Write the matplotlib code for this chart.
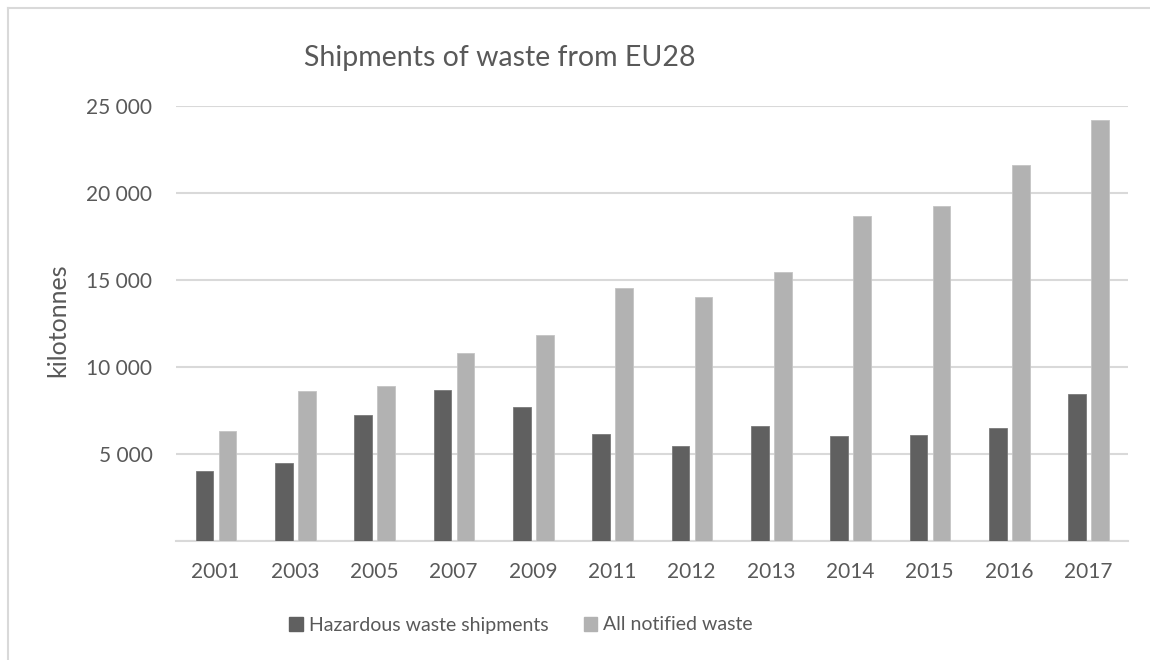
import matplotlib

matplotlib.use("Agg")
import matplotlib.pyplot as plt
from matplotlib.lines import Line2D
from matplotlib.patches import Patch
from matplotlib.ticker import FuncFormatter
import numpy as np

years = ["2001", "2003", "2005", "2007", "2009", "2011", "2012", "2013", "2014", "2015", "2016", "2017"]
hazardous = [4015, 4460, 7240, 8700, 7680, 6150, 5440, 6590, 6030, 6090, 6470, 8450]
all_notified = [6300, 8600, 8910, 10790, 11830, 14560, 14000, 15440, 18650, 19260, 21600, 24220]
y_ticks = [0, 5000, 10000, 15000, 20000, 25000]

DARK = "#606060"
LIGHT = "#b2b2b2"
GRID = "#d9d9d9"
TEXT = "#595959"

plt.rcParams["font.family"] = ["Lato", "DejaVu Sans"]

fig = plt.figure(figsize=(11.5, 6.6), dpi=100)
ax = fig.add_axes([176 / 1150, 1 - 541 / 660, 952 / 1150, 435 / 660])

x = np.arange(len(years))
width = 0.225
ax.bar(x - 0.14, hazardous, width, color=DARK, edgecolor="#7a7a7a", linewidth=0.6, zorder=3)
ax.bar(x + 0.15, all_notified, width, color=LIGHT, edgecolor="#c4c4c4", linewidth=0.6, zorder=3)

ax.set_xlim(-0.5, len(years) - 0.5)
ax.set_ylim(0, 25000)
ax.set_yticks(y_ticks)
ax.yaxis.set_major_formatter(FuncFormatter(lambda v, _: "" if v == 0 else f"{int(v):,}".replace(",", " ")))
ax.set_xticks(x)
ax.set_xticklabels(years)
ax.tick_params(axis="both", length=0, labelsize=15, colors=TEXT)
ax.tick_params(axis="x", pad=15)
ax.tick_params(axis="y", pad=17)
ax.grid(axis="y", color=GRID, linewidth=1.5, zorder=0)
for side in ["top", "right", "left"]:
    ax.spines[side].set_visible(False)
ax.spines["bottom"].set_color(GRID)
ax.spines["bottom"].set_linewidth(1.5)

fig.text(58 / 1150, 1 - 320 / 660, "kilotonnes", rotation=90, ha="center", va="center",
         fontsize=18, color=TEXT)
fig.text(500 / 1150, 1 - 58 / 660, "Shipments of waste from EU28", ha="center", va="center",
         fontsize=20.5, color=TEXT)

handles = [Patch(facecolor=DARK, edgecolor=DARK), Patch(facecolor=LIGHT, edgecolor=LIGHT)]
fig.legend(handles, ["Hazardous waste shipments", "All notified waste"], loc="center",
           bbox_to_anchor=(521 / 1150, 1 - 625 / 660), ncol=2, frameon=False, fontsize=14,
           labelcolor=TEXT, handlelength=0.7, handleheight=0.7, handletextpad=0.3, columnspacing=1.8)

# chart border (top and left edges visible in the reference crop)
fig.add_artist(Line2D([8 / 1150, 8 / 1150], [0, 1 - 7.5 / 660], color=GRID, linewidth=1.5))
fig.add_artist(Line2D([8 / 1150, 1], [1 - 7.5 / 660, 1 - 7.5 / 660], color=GRID, linewidth=1.5))

fig.savefig("out.png", dpi=100)
